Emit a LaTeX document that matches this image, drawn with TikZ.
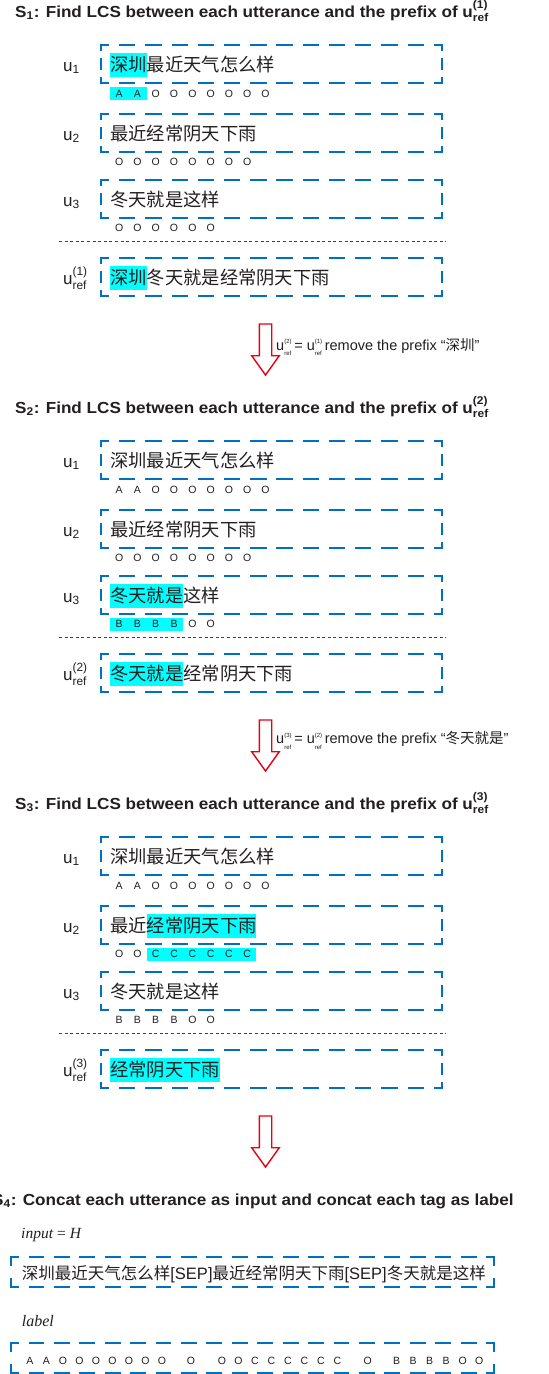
\documentclass[tikz,border=0pt]{standalone}
\usepackage{fontspec}
\usepackage{amsmath}
\setmainfont{Liberation Sans}
\newfontfamily\cjk{Noto Sans CJK SC}
\newfontfamily\tms{Liberation Serif}
\newfontfamily\ttlfont[FakeStretch=1.07]{Liberation Sans}
\definecolor{boxblue}{RGB}{0,112,192}
\definecolor{hl}{RGB}{0,255,255}
\definecolor{ink}{RGB}{35,31,32}
\definecolor{arrowred}{RGB}{230,0,18}
\newcommand\lbl[1]{$\text{u}_{\text{#1}}$}
\newcommand\urf[1]{$\text{u}^{\text{(#1)}}_{\text{ref}}$}
\newcommand\urs[1]{u\makebox[0pt][l]{\raisebox{6.5pt}{\fontsize{6}{6}\selectfont(#1)}}\raisebox{-5.5pt}{\fontsize{6}{6}\selectfont ref}}
\newcommand\bluebox[5]{%
 \coordinate (#1-nw) at (#2,#3);
 \coordinate (#1-ne) at (#4,#3);
 \coordinate (#1-sw) at (#2,#5);
 \coordinate (#1-se) at (#4,#5);
 \pgfmathsetmacro\bxw{(#4)-(#2)}%
 \pgfmathsetmacro\bxh{(#5)-(#3)}%
 \pgfmathsetmacro\bxnh{max(1,round(\bxw/26))}%
 \pgfmathsetmacro\bxph{\bxw/\bxnh}%
 \pgfmathsetmacro\bxonh{0.56*\bxph}%
 \pgfmathsetmacro\bxoffh{\bxph-\bxonh}%
 \pgfmathsetmacro\bxphaseh{\bxonh/2}%
 \pgfmathsetmacro\bxnv{max(1,round(\bxh/22))}%
 \pgfmathsetmacro\bxpv{\bxh/\bxnv}%
 \pgfmathsetmacro\bxonv{0.52*\bxpv}%
 \pgfmathsetmacro\bxoffv{\bxpv-\bxonv}%
 \pgfmathsetmacro\bxphasev{\bxonv/2}%
 \draw[bluedash, dash pattern=on \bxonh pt off \bxoffh pt, dash phase=\bxphaseh pt] (#1-nw) -- (#1-ne);
 \draw[bluedash, dash pattern=on \bxonh pt off \bxoffh pt, dash phase=\bxphaseh pt] (#1-sw) -- (#1-se);
 \draw[bluedash, dash pattern=on \bxonv pt off \bxoffv pt, dash phase=\bxphasev pt] (#1-nw) -- (#1-sw);
 \draw[bluedash, dash pattern=on \bxonv pt off \bxoffv pt, dash phase=\bxphasev pt] (#1-ne) -- (#1-se);
}
% row: name, center y, label, text
\newcommand\urow[4]{%
 \bluebox{#1b}{101}{#2-19}{442}{#2+19}%
 \node[ulabel] (#1l) at (63,#2+7) {#3};
 \node[utext] (#1t) at (110,#2+7.5) {#4};
}
\newcommand\tagrow[3]{%
 \foreach \tg [count=\i from 0] in {#3} {\node[tag] (#1-\i) at ({110+18.3*(\i+0.5)},#2) {\tg};}%
}
% highlight of text: center y, first char, end char
\newcommand\hltext[3]{\fill[hl] ({110+18.3*(#2)},#1-11.5) rectangle ({110+18.3*(#3)},#1+12.5);}
\newcommand\hltag[3]{\fill[hl] ({110+18.3*(#2)},#1-6.5) rectangle ({110+18.3*(#3)},#1+6.5);}
\newcommand\redarrow{%
 \draw[redarr] (259.3,324) -- (271.7,324) -- (271.7,355.7) -- (279.3,355.7) -- (265.5,375) -- (251.7,355.7) -- (259.3,355.7) -- cycle;}
\newcommand\sepline{\draw[sepl] (59,241) -- (446,241);}
\begin{document}
\begin{tikzpicture}[x=1pt,y=-1pt,
  bluedash/.style={draw=boxblue, line width=1.6pt, line cap=rect},
  ulabel/.style={anchor=base west, inner sep=0, text=ink, font=\fontsize{17}{20}\selectfont},
  utext/.style={anchor=base west, inner sep=0, text=ink, font=\cjk\fontsize{18.3}{20}\selectfont},
  tag/.style={anchor=center, inner sep=0, text=ink, font=\fontsize{10.5}{12}\selectfont},
  ttl/.style={anchor=base west, inner sep=0, text=ink, font=\ttlfont\bfseries\fontsize{16}{18}\selectfont},
  alabel/.style={anchor=base west, inner sep=0, text=ink, font=\fontsize{14.5}{16}\selectfont},
  redarr/.style={draw=arrowred, line width=1.4pt, fill=white, line join=miter},
  sepl/.style={draw=ink!85, line width=0.7pt, dash pattern=on 3pt off 2.6pt},
  ]
\fill[white] (0,0) rectangle (549,1374);
\useasboundingbox (0,0) rectangle (549,1374);
% ---------- Section 1 ----------
\begin{scope}
\node[ttl] (s1title) at (15,17) {S$_{\text{1}}$: Find LCS between each utterance and the prefix of \urf{1}};
\hltext{64}{0}{2}
\hltag{93.5}{0}{2}
\hltext{277}{0}{2}
\urow{s1u1}{64}{\lbl{1}}{深圳最近天气怎么样}
\tagrow{s1g1}{93.5}{A,A,O,O,O,O,O,O,O}
\urow{s1u2}{133}{\lbl{2}}{最近经常阴天下雨}
\tagrow{s1g2}{162}{O,O,O,O,O,O,O,O}
\urow{s1u3}{199}{\lbl{3}}{冬天就是这样}
\tagrow{s1g3}{228}{O,O,O,O,O,O}
\sepline
\urow{s1r}{277}{\urf{1}}{深圳冬天就是经常阴天下雨}
\redarrow
\node[alabel] (a1l) at (276,350) {\urs{2}\hspace{3pt}= \urs{1}\hspace{3pt}remove the prefix “{\cjk 深圳}”};
\end{scope}
% ---------- Section 2 ----------
\begin{scope}[yshift=-396pt]
\node[ttl] (s2title) at (15,17) {S$_{\text{2}}$: Find LCS between each utterance and the prefix of \urf{2}};
\hltext{199}{0}{4}
\hltag{228}{0}{4}
\hltext{277}{0}{4}
\urow{s2u1}{64}{\lbl{1}}{深圳最近天气怎么样}
\tagrow{s2g1}{93.5}{A,A,O,O,O,O,O,O,O}
\urow{s2u2}{133}{\lbl{2}}{最近经常阴天下雨}
\tagrow{s2g2}{162}{O,O,O,O,O,O,O,O}
\urow{s2u3}{199}{\lbl{3}}{冬天就是这样}
\tagrow{s2g3}{228}{B,B,B,B,O,O}
\sepline
\urow{s2r}{277}{\urf{2}}{冬天就是经常阴天下雨}
\redarrow
\node[alabel] (a2l) at (276,347.5) {\urs{3}\hspace{3pt}= \urs{2}\hspace{3pt}remove the prefix “{\cjk 冬天就是}”};
\end{scope}
% ---------- Section 3 ----------
\begin{scope}[yshift=-792pt]
\node[ttl] (s3title) at (15,17) {S$_{\text{3}}$: Find LCS between each utterance and the prefix of \urf{3}};
\hltext{133}{2}{8}
\hltag{162}{2}{8}
\hltext{277}{0}{6}
\urow{s3u1}{64}{\lbl{1}}{深圳最近天气怎么样}
\tagrow{s3g1}{93.5}{A,A,O,O,O,O,O,O,O}
\urow{s3u2}{133}{\lbl{2}}{最近经常阴天下雨}
\tagrow{s3g2}{162}{O,O,C,C,C,C,C,C}
\urow{s3u3}{199}{\lbl{3}}{冬天就是这样}
\tagrow{s3g3}{228}{B,B,B,B,O,O}
\sepline
\urow{s3r}{277}{\urf{3}}{经常阴天下雨}
\redarrow
\end{scope}
% ---------- Section 4 ----------
\node[ttl] (s4title) at (-8,1205) {S$_{\text{4}}$: Concat each utterance as input and concat each tag as label};
\node[anchor=base west, inner sep=0, text=ink, font=\tms\fontsize{15.5}{18}\selectfont] (inlbl) at (21,1238.3) {\textit{input} = \textit{H}};
\bluebox{inbox}{11}{1257}{494}{1287}
\node[anchor=base west, inner sep=0, text=ink, font=\fontsize{16.5}{18}\selectfont] (intext) at (21.7,1279.6) {{\cjk 深圳最近天气怎么样}[SEP]{\cjk 最近经常阴天下雨}[SEP]{\cjk 冬天就是这样}};
\node[anchor=base west, inner sep=0, text=ink, font=\tms\fontsize{16}{18}\selectfont] (lablbl) at (21.7,1326.7) {\textit{label}};
\bluebox{labbox}{11}{1343}{494}{1373}
\foreach \tg [count=\i from 0] in {A,A,O,O,O,O,O,O,O} {\node[tag] (l1-\i) at ({30+16.5*\i},1360.7) {\tg};}
\node[tag] (lsep1) at (191,1360.7) {O};
\foreach \tg [count=\i from 0] in {O,O,C,C,C,C,C,C} {\node[tag] (l2-\i) at ({222+16.5*\i},1360.7) {\tg};}
\node[tag] (lsep2) at (367.7,1360.7) {O};
\foreach \tg [count=\i from 0] in {B,B,B,B,O,O} {\node[tag] (l3-\i) at ({396.7+16.5*\i},1360.7) {\tg};}
\end{tikzpicture}
\end{document}
